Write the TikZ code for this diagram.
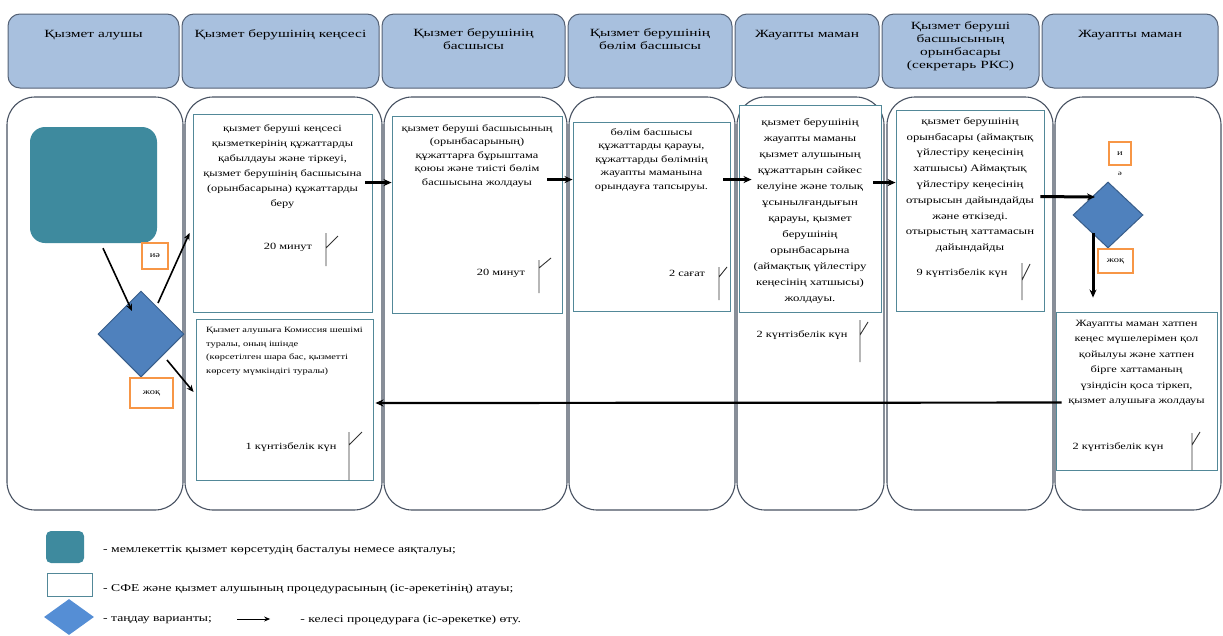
\documentclass[tikz,border=0pt]{standalone}
\usepackage{fontspec}
\setmainfont{Liberation Serif}[FakeStretch=1.3]
\newfontfamily\hdrfont{Liberation Serif}[FakeStretch=1.4]
\usetikzlibrary{arrows.meta,shapes.geometric,calc}
\definecolor{hdrfill}{RGB}{168,192,222}
\definecolor{hdrdraw}{RGB}{85,98,118}
\definecolor{lanedraw}{RGB}{72,82,98}
\definecolor{boxdraw}{RGB}{82,136,152}
\definecolor{startfill}{RGB}{62,138,158}
\definecolor{dfill}{RGB}{79,129,189}
\definecolor{ddraw}{RGB}{56,93,138}
\definecolor{orng}{RGB}{247,150,70}
\definecolor{legdia}{RGB}{85,142,213}
\begin{document}
\begin{tikzpicture}[x=1pt,y=-1pt,
  hdr/.style={draw=hdrdraw, fill=hdrfill, rounded corners=12pt, line width=1pt, inner sep=0pt},
  hdrtxt/.style={font=\hdrfont\fontsize{11}{13}\selectfont, align=center, inner sep=0pt, anchor=north},
  lane/.style={draw=lanedraw, fill=white, rounded corners=28pt, line width=1.1pt, inner sep=0pt},
  pbox/.style={draw=boxdraw, fill=white, line width=0.9pt, inner sep=0pt},
  ptxt/.style={align=center, inner sep=0pt, anchor=north},
  ttxt/.style={font=\fontsize{9.5}{11}\selectfont, inner sep=0pt},
  arr/.style={-{Stealth[length=8pt,width=7pt]}, line width=2.2pt},
  arrthin/.style={-{Stealth[length=7pt,width=6pt]}, line width=1.6pt},
  dec/.style={diamond, draw=ddraw, fill=dfill, line width=1pt, inner sep=0pt},
  olab/.style={draw=orng, fill=white, line width=2.5pt, inner sep=0pt, font=\fontsize{8}{9}\selectfont},
  flagline/.style={line width=0.9pt, black!80},
  legtxt/.style={font=\fontsize{10.5}{12}\selectfont, inner sep=0pt, anchor=west}
]
\useasboundingbox (0,0) rectangle (1223,635);

% headers
\node[hdr, minimum width=171pt, minimum height=74pt] (h1) at (93.5,51) {};
\node[hdr, minimum width=197pt, minimum height=74pt] (h2) at (280.5,51) {};
\node[hdr, minimum width=183pt, minimum height=74pt] (h3) at (473.5,51) {};
\node[hdr, minimum width=164pt, minimum height=74pt] (h4) at (650,51) {};
\node[hdr, minimum width=144pt, minimum height=74pt] (h5) at (807,51) {};
\node[hdr, minimum width=157pt, minimum height=74pt] (h6) at (960.5,51) {};
\node[hdr, minimum width=176pt, minimum height=74pt] (h7) at (1130,51) {};
\node[hdrtxt] (h1t) at (93.5,30) {Қызмет алушы};
\node[hdrtxt] (h2t) at (280.5,29) {Қызмет берушінің кеңсесі};
\node[hdrtxt] (h3t) at (473.5,28) {Қызмет берушінің\\басшысы};
\node[hdrtxt] (h4t) at (650,28) {Қызмет берушінің\\бөлім басшысы};
\node[hdrtxt] (h5t) at (807,30) {Жауапты маман};
\node[hdrtxt] (h6t) at (960.5,21) {Қызмет беруші\\басшысының\\орынбасары\\(секретарь РКС)};
\node[hdrtxt] (h7t) at (1130,30) {Жауапты маман};

% lanes
\node[lane, minimum width=176pt, minimum height=413pt] (L1) at (95,303.5) {};
\node[lane, minimum width=197pt, minimum height=413pt] (L2) at (283.5,303.5) {};
\node[lane, minimum width=183pt, minimum height=413pt] (L3) at (475.5,303.5) {};
\node[lane, minimum width=166pt, minimum height=413pt] (L4) at (652,303.5) {};
\node[lane, minimum width=147pt, minimum height=413pt] (L5) at (810.5,303.5) {};
\node[lane, minimum width=166pt, minimum height=413pt] (L6) at (970,303.5) {};
\node[lane, minimum width=166pt, minimum height=413pt] (L7) at (1138,303.5) {};

% process boxes
\node[pbox, minimum width=179pt, minimum height=198pt] (B1) at (282.5,213) {};
\node[pbox, minimum width=170pt, minimum height=197pt] (B2) at (477,214.5) {};
\node[pbox, minimum width=157pt, minimum height=189pt] (B3) at (651.5,216.5) {};
\node[pbox, minimum width=142pt, minimum height=207pt] (B4) at (810,208.5) {};
\node[pbox, minimum width=148pt, minimum height=201pt] (B5) at (970,210.5) {};
\node[pbox, minimum width=161pt, minimum height=158pt] (B7) at (1136.5,391) {};
\node[pbox, minimum width=177pt, minimum height=161pt] (B6) at (284.5,399.5) {};

\node[ptxt, font=\fontsize{9.5}{15}\selectfont] (B1t) at (282.5,124) {қызмет беруші кеңсесі\\қызметкерінің құжаттарды\\қабылдауы және тіркеуі,\\қызмет берушінің басшысына\\(орынбасарына) құжаттарды\\беру};
\node[ptxt, font=\fontsize{9.5}{13.5}\selectfont] (B2t) at (477,124) {қызмет беруші басшысының\\(орынбасарының)\\құжаттарға бұрыштама\\қоюы және тиісті бөлім\\басшысына жолдауы};
\node[ptxt, font=\fontsize{9.5}{13.5}\selectfont] (B3t) at (651.5,128) {бөлім басшысы\\құжаттарды қарауы,\\құжаттарды бөлімнің\\жауапты маманына\\орындауға тапсыруы.};
\node[ptxt, font=\fontsize{9.8}{16}\selectfont] (B4t) at (810,118) {қызмет берушінің\\жауапты маманы\\қызмет алушының\\құжаттарын сәйкес\\келуіне және толық\\ұсынылғандығын\\қарауы, қызмет\\берушінің\\орынбасарына\\(аймақтық үйлестіру\\кеңесінің хатшысы)\\жолдауы.};
\node[ptxt, font=\fontsize{9.8}{15.8}\selectfont] (B5t) at (970,117) {қызмет берушінің\\орынбасары (аймақтық\\үйлестіру кеңесінің\\хатшысы) Аймақтық\\үйлестіру кеңесінің\\отырысын дайындайды\\және өткізеді.\\отырыстың хаттамасын\\дайындайды};
\node[ptxt, font=\fontsize{9.5}{15.5}\selectfont] (B7t) at (1136.5,320) {Жауапты маман хатпен\\кеңес мүшелерімен қол\\қойылуы және хатпен\\бірге хаттаманың\\үзіндісін қоса тіркеп,\\қызмет алушыға жолдауы};
\node[inner sep=0pt, anchor=north west, align=left, font=\fontsize{8}{13.5}\selectfont] (B6t) at (206,327) {Қызмет алушыға  Комиссия шешімі\\туралы, оның ішінде\\(көрсетілген шара бас, қызметті\\көрсету мүмкіндігі туралы)};

% time labels
\node[ttxt] (t1) at (288,247) {20 минут};
\node[ttxt] (t2) at (501,273) {20 минут};
\node[ttxt] (t3) at (687,273) {2 сағат};
\node[ttxt] (t4) at (802,335) {2 күнтізбелік күн};
\node[ttxt] (t5) at (962,273) {9 күнтізбелік күн};
\node[ttxt] (t6) at (1118,447) {2 күнтізбелік күн};
\node[ttxt] (t7) at (291,447) {1 күнтізбелік күн};

% flags
\draw[flagline] (326,233) -- (326,266) (326,248) -- (338,236);
\draw[flagline] (539,260) -- (539,293) (539,268) -- (551,258);
\draw[flagline] (719,267) -- (719,300) (719,277) -- (727,267);
\draw[flagline] (860,320) -- (860,362) (860,335) -- (868,322);
\draw[flagline] (1022,263) -- (1022,300) (1022,280) -- (1030,264);
\draw[flagline] (1192,433) -- (1192,470) (1192,445) -- (1200,432);
\draw[flagline] (349,432) -- (349,480) (349,445) -- (362,432);

% start and decisions
\node[fill=startfill, rounded corners=15pt, minimum width=127pt, minimum height=116pt, inner sep=0pt] (S) at (93.5,185) {};
\node[dec, minimum width=86pt, minimum height=86pt] (D1) at (141,334) {};
\node[dec, minimum width=70pt, minimum height=66pt] (D2) at (1108,215) {};

% arrows
\draw[arrthin] ($(S.south)+(9.5,5)$) -- ($(D1.center)+(-9,-23)$);
\draw[arrthin] ($(D1.center)+(17,-31)$) -- ($(B1.west)+(-3,20)$);
\draw[arrthin] ($(D1.center)+(26,26)$) -- ($(B6.west)+(-2,-7.5)$);
\draw[arr] ($(B1.north east)+(-7,69)$) -- ($(B2.north west)+(0,67)$);
\draw[arr] ($(B2.north east)+(-15,64)$) -- ($(B3.north west)+(0,58)$);
\draw[arr] ($(B3.north east)+(-7,58)$) -- ($(B4.north west)+(13,75)$);
\draw[arr] ($(B4.north east)+(-8,78)$) -- ($(B5.north west)+(0,73)$);
\draw[arr, line width=3pt] ($(B5.north east)+(-4,87)$) -- ($(D2.center)+(-13,-18)$);
\draw[arr, line width=3pt] ($(D2.center)+(-15,18)$) -- ($(B7.north)+(-43.5,-14)$);
\draw[arr] ($(B7.north west)+(6,91)$) -- ($(B6.east)+(2,3.5)$);

% yes/no labels
\node[olab, minimum width=26pt, minimum height=26pt] (O1) at (155,256) {иә};
\node[olab, minimum width=43pt, minimum height=30pt] (O2) at (151.5,393) {жоқ};
\node[olab, minimum width=22pt, minimum height=23pt] (O3) at (1120,153.5) {и};
\node[inner sep=0pt, font=\fontsize{7}{8}\selectfont] (O3b) at (1120,174) {ә};
\node[olab, minimum width=35pt, minimum height=24pt] (O4) at (1115.5,261) {жоқ};

% legend
\node[fill=startfill, rounded corners=5pt, minimum width=38pt, minimum height=32pt, inner sep=0pt] (LG1) at (65,547) {};
\node[draw=boxdraw, fill=white, line width=1pt, minimum width=45pt, minimum height=23pt, inner sep=0pt] (LG2) at (69.5,584.5) {};
\node[diamond, fill=legdia, minimum width=50pt, minimum height=36pt, inner sep=0pt] (LG3) at (69,617) {};
\node[legtxt] (lg1t) at (103,550) {- мемлекеттік қызмет көрсетудің басталуы немесе аяқталуы;};
\node[legtxt] (lg2t) at (103,589) {- СФЕ және қызмет алушының процедурасының (іс-әрекетінің) атауы;};
\node[legtxt] (lg3t) at (103,620) {- таңдау варианты;};
\coordinate (la) at ($(lg3t.east)+(25,-1)$);
\coordinate (lb) at ($(lg3t.east)+(58,-1)$);
\draw[-{Stealth[length=6pt,width=5pt]}, line width=1pt] (la) -- (lb);
\node[legtxt] (lg4t) at ($(lg3t.east)+(88,0)$) {- келесі процедураға (іс-әрекетке) өту.};
\end{tikzpicture}
\end{document}
